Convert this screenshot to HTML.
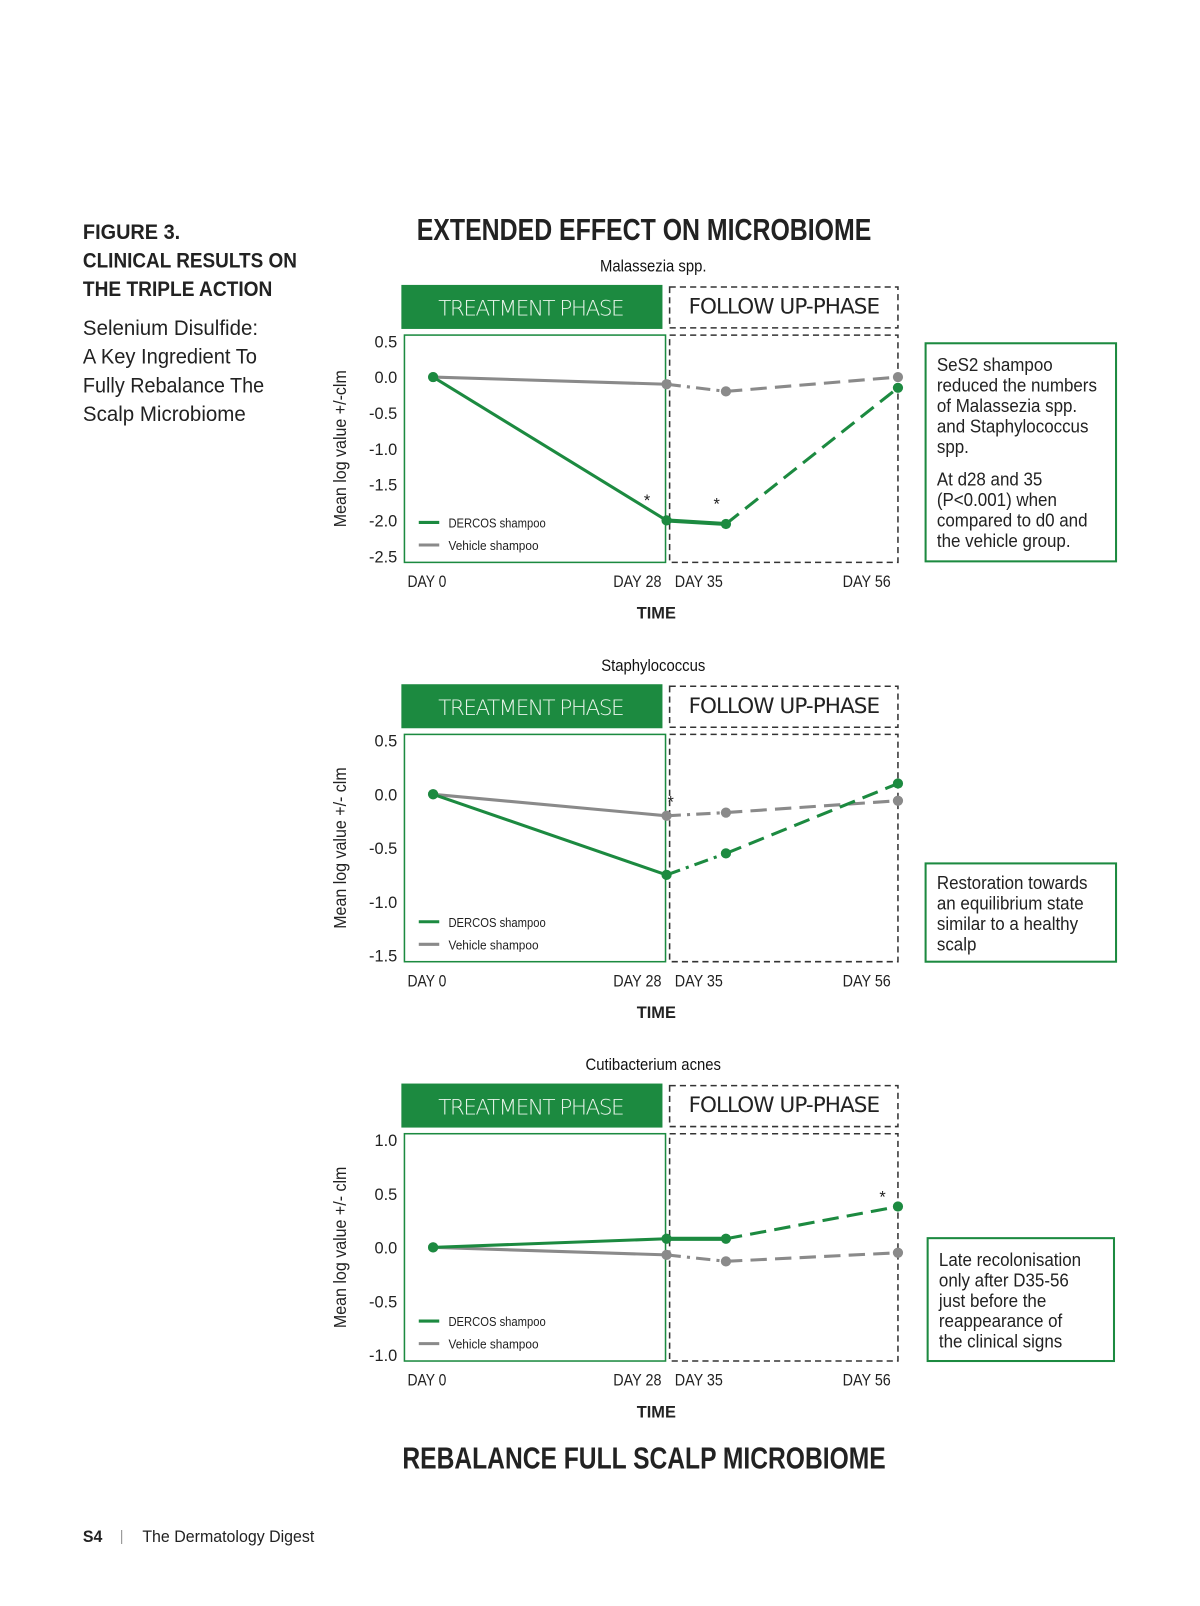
<!DOCTYPE html>
<html><head><meta charset="utf-8"><style>
html,body{margin:0;padding:0;background:#fff;}
svg{display:block;font-family:"Liberation Sans Narrow","Liberation Sans",sans-serif;}
</style></head><body>
<svg id="page" width="1200" height="1606" viewBox="0 0 1172 1568" xmlns="http://www.w3.org/2000/svg">
<g fill="#222">
<text x="81" y="233" font-size="21" font-weight="bold" textLength="95" lengthAdjust="spacingAndGlyphs">FIGURE 3.</text>
<text x="81" y="261" font-size="21" font-weight="bold" textLength="209" lengthAdjust="spacingAndGlyphs">CLINICAL RESULTS ON</text>
<text x="81" y="289" font-size="21" font-weight="bold" textLength="185" lengthAdjust="spacingAndGlyphs">THE TRIPLE ACTION</text>
<text x="81" y="327" font-size="21" textLength="171" lengthAdjust="spacingAndGlyphs">Selenium Disulfide:</text>
<text x="81" y="355" font-size="21" textLength="170" lengthAdjust="spacingAndGlyphs">A Key Ingredient To</text>
<text x="81" y="383" font-size="21" textLength="177" lengthAdjust="spacingAndGlyphs">Fully Rebalance The</text>
<text x="81" y="411" font-size="21" textLength="159" lengthAdjust="spacingAndGlyphs">Scalp Microbiome</text>
</g>
<text x="407" y="234" font-size="30" font-weight="bold" fill="#222" textLength="444" lengthAdjust="spacingAndGlyphs">EXTENDED EFFECT ON MICROBIOME</text>
<text x="393" y="1434" font-size="30" font-weight="bold" fill="#222" textLength="472" lengthAdjust="spacingAndGlyphs">REBALANCE FULL SCALP MICROBIOME</text>
<g fill="#222">
<text x="81" y="1506" font-size="16" font-weight="bold" textLength="19" lengthAdjust="spacingAndGlyphs">S4</text>
<text x="117" y="1505" font-size="14" fill="#999">|</text>
<text x="139" y="1506" font-size="16" textLength="168" lengthAdjust="spacingAndGlyphs">The Dermatology Digest</text>
</g>
<g id="charts"></g>
</svg>
<script>
// Chart data
const titles = ["Malassezia spp.", "Staphylococcus", "Cutibacterium acnes"];
const days = ["DAY 0", "DAY 28", "DAY 35", "DAY 56"];
const dercos1 = [0, -2.0, -2.05, -0.15];
const vehicle1 = [0, -0.1, -0.2, 0];
const dercos2 = [0, -0.75, -0.55, 0.1];
const vehicle2 = [0, -0.2, -0.17, -0.06];
const dercos3 = [0, 0.08, 0.08, 0.38];
const vehicle3 = [0, -0.07, -0.13, -0.05];
const ticks1 = [0.5, 0.0, -0.5, -1.0, -1.5, -2.0, -2.5];
const ticks2 = [0.5, 0.0, -0.5, -1.0, -1.5];
const ticks3 = [1.0, 0.5, 0.0, -0.5, -1.0];
const yLabels = ["Mean log value +/-clm", "Mean log value +/- clm", "Mean log value +/- clm"];
const stars1 = [1, 2];
const stars2 = [1];
const stars3 = [3];
const notes1 = ["SeS2 shampoo","reduced the numbers","of Malassezia spp.","and Staphylococcus","spp.","","At d28 and 35","(P<0.001) when","compared to d0 and","the vehicle group."];
const notes2 = ["Restoration towards","an equilibrium state","similar to a healthy","scalp"];
const notes3 = ["Late recolonisation","only after D35-56","just before the","reappearance of","the clinical signs"];

const NS = "http://www.w3.org/2000/svg";
const GREEN = "#1c8a40", GRAY = "#8a8a8a";
const root = document.getElementById("charts");
function mk(tag, attrs, parent, txt){
  const e = document.createElementNS(NS, tag);
  for (const k in attrs) e.setAttribute(k, attrs[k]);
  if (txt !== undefined) e.textContent = txt;
  parent.appendChild(e); return e;
}
const dayX = [423, 651, 709, 877];
function xScale(i){ return dayX[i]; }

const configs = [
  {off:0, ticks:ticks1, d:dercos1, v:vehicle1, stars:stars1, sdx:[0,-19,-9,0], sdy:-14, notes:notes1, box:[904,335,186,213], noteY:356},
  {off:390, ticks:ticks2, d:dercos2, v:vehicle2, stars:stars2, sdx:[0,4,0,0], sdy:-66, notes:notes2, box:[904,843,186,96], noteY:862},
  {off:780, ticks:ticks3, d:dercos3, v:vehicle3, stars:stars3, sdx:[0,0,0,-15], sdy:-4, notes:notes3, box:[906,1209,182,120], noteY:1230}
];

configs.forEach((c, ci) => {
  const o = c.off;
  const g = mk("g", {}, root);
  
  
  const top = 333 + o, bot = 543 + o;
  const tMax = c.ticks[0], tMin = c.ticks[c.ticks.length-1];
  const yScale = v => top + (tMax - v) / (tMax - tMin) * (bot - top);

  const t = mk("text", {transform:`translate(638,${265+o}) scale(0.88,1)`, "font-size":16.5, "text-anchor":"middle", fill:"#111"}, g, titles[ci]);
  
  

  const hb = mk("rect", {x:392, y:278+o, width:255, height:43, fill:GREEN}, g);
  
  
  mk("text", {x:519, y:308+o, "font-size":21, "text-anchor":"middle", fill:"#e8f5ea", "font-family":"DejaVu Sans, sans-serif", "font-weight":"300", textLength:182}, g, "TREATMENT PHASE");
  const fb = mk("rect", {x:654, y:280+o, width:223, height:40, fill:"none", stroke:"#333", "stroke-width":1.5, "stroke-dasharray":"6 4"}, g);
  
  
  mk("text", {x:766, y:306+o, "font-size":21, "text-anchor":"middle", fill:"#222", "font-family":"DejaVu Sans, sans-serif", textLength:187}, g, "FOLLOW UP-PHASE");

  const pf = mk("rect", {x:395, y:327+o, width:255, height:222, fill:"none", stroke:GREEN, "stroke-width":1.5}, g);
  
  
  const ff = mk("rect", {x:654, y:327+o, width:223, height:222, fill:"none", stroke:"#333", "stroke-width":1.5, "stroke-dasharray":"6 4"}, g);
  
  

  c.ticks.forEach(tv => {
    const tl = mk("text", {x:388, y:yScale(tv)+6, "font-size":16, "text-anchor":"end", fill:"#222"}, g, tv.toFixed(1));
    
    
  });
  const yl = mk("text", {transform:`translate(338,${438+o}) rotate(-90) scale(0.92,1)`, "font-size":17, "text-anchor":"middle", fill:"#222"}, g, yLabels[ci]);
  
  

  const xl = [[398,"start"],[646,"end"],[659,"start"],[870,"end"]];
  days.forEach((d, i) => {
    const e = mk("text", {x:xl[i][0], y:573+o, "font-size":16, "text-anchor":xl[i][1], fill:"#222", textLength:i===0?38:47, lengthAdjust:"spacingAndGlyphs"}, g, d);
    
    
  });
  const xt = mk("text", {x:641, y:604+o, "font-size":16, "font-weight":"bold", "text-anchor":"middle", fill:"#222"}, g, "TIME");
  
  

  [[c.v, GRAY, "vehicle"], [c.d, GREEN, "dercos"]].forEach(([vals, col, nm]) => {
    const s = mk("g", {}, g);
    
    
    mk("line", {x1:xScale(0), y1:yScale(vals[0]), x2:xScale(1), y2:yScale(vals[1]), stroke:col, "stroke-width":3}, s);
    const thick = nm === "dercos" && Math.abs(vals[1]-vals[2]) < 0.1;
    mk("line", {x1:xScale(1), y1:yScale(vals[1]), x2:xScale(2), y2:yScale(vals[2]), stroke:col, "stroke-width":thick?4:3, "stroke-dasharray":thick?"none":"14 6 3 6"}, s);
    mk("line", {x1:xScale(2), y1:yScale(vals[2]), x2:xScale(3), y2:yScale(vals[3]), stroke:col, "stroke-width":3, "stroke-dasharray":"16 8"}, s);
    vals.forEach((v, i) => {
      const p = mk("circle", {cx:xScale(i), cy:yScale(v), r:5, fill:col}, s);
      
      
    });
  });
  c.stars.forEach(i => {
    const st = mk("text", {x:xScale(i) + c.sdx[i], y:yScale(c.d[i]) + c.sdy, "font-size":16, "text-anchor":"middle", fill:"#222"}, g, "*");
    
    
  });

  const lg = mk("g", {}, g);
  
  
  mk("line", {x1:409, y1:510+o, x2:429, y2:510+o, stroke:GREEN, "stroke-width":3}, lg);
  mk("text", {x:438, y:515+o, "font-size":12.5, fill:"#222", textLength:95, lengthAdjust:"spacingAndGlyphs"}, lg, "DERCOS shampoo");
  mk("line", {x1:409, y1:532+o, x2:429, y2:532+o, stroke:GRAY, "stroke-width":3}, lg);
  mk("text", {x:438, y:537+o, "font-size":12.5, fill:"#222", textLength:88, lengthAdjust:"spacingAndGlyphs"}, lg, "Vehicle shampoo");

  const nb = mk("g", {}, g);
  
  
  const b = c.box;
  mk("rect", {x:b[0], y:b[1], width:b[2], height:b[3], fill:"#fff", stroke:GREEN, "stroke-width":2}, nb);
  let y = c.noteY + 6;
  c.notes.forEach(line => {
    if (line === "") { y += 12; return; }
    mk("text", {transform:`translate(${b[0]+11},${y}) scale(0.92,1)`, "font-size":18, fill:"#222"}, nb, line);
    y += 20;
  });
});
</script>
</body></html>
